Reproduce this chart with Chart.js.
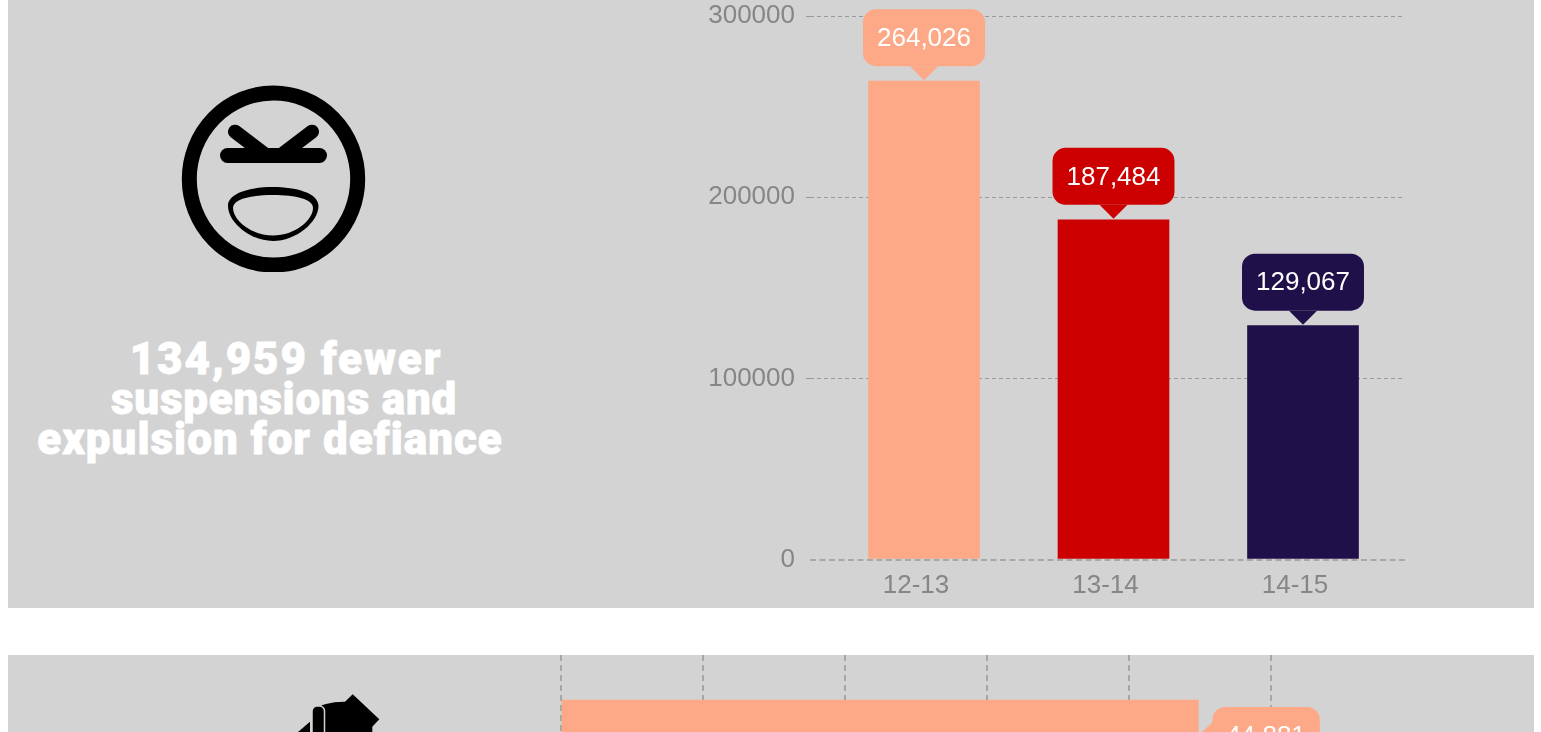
<!DOCTYPE html>
<html>
<head>
<meta charset="utf-8">
<title>Suspensions and expulsions for defiance</title>
<script src="https://cdn.jsdelivr.net/npm/chart.js@4"></script>
<style>
    html, body { margin: 0; padding: 0; background: #fff; overflow: hidden; }
    body { position: relative; width: 1541px; height: 732px; }
    .panel { position: absolute; left: 8px; width: 1526px; background: #d3d3d3; overflow: hidden; }
    #panelTop { top: 0; height: 608px; }
    #panelBottom { top: 655px; height: 77px; }
    #defianceChart { position: absolute; left: 0; top: 0; }
    #fewerChart { position: absolute; left: 0; top: 0; }
    .headline {
        position: absolute;
        white-space: nowrap;
        color: #fff;
        font-family: Roboto, sans-serif;
        font-weight: 900;
        font-size: 44px;
        line-height: 40px;
        -webkit-text-stroke: 0.8px #fff;
        transform: translateX(-50%);
    }
    .icon { position: absolute; left: 0; top: 0; }
</style>
</head>
<body>

<div class="panel" id="panelTop">
    <svg class="icon" width="500" height="272" viewBox="8 0 500 272">
        <ellipse cx="273.5" cy="179" rx="84.2" ry="86" fill="none" stroke="#000" stroke-width="15"/>
        <path d="M227.5 155.5H319.5" stroke="#000" stroke-width="15" stroke-linecap="round"/>
        <path d="M235 131.7L263.6 153.4M312 131.7L283.4 153.4" stroke="#000" stroke-width="14" stroke-linecap="round"/>
        <path fill-rule="evenodd" d="M228 206C228 193 250 187 273 187C296 187 318.5 193 318.5 206C318.5 222 296 241 273 241C250 241 228 222 228 206ZM233 208C233 199 250 195 273 195C296 195 313 199 313 208C313 220 295 235.5 273 235.5C251 235.5 233 220 233 208Z" fill="#000"/>
    </svg>
    <div class="headline" style="left:278px;top:339px;letter-spacing:1.9px">134,959 fewer</div>
    <div class="headline" style="left:276px;top:379px;letter-spacing:0.8px">suspensions and</div>
    <div class="headline" style="left:262px;top:419px;letter-spacing:1px">expulsion for defiance</div>
    <canvas id="defianceChart" width="1526" height="608"></canvas>
</div>

<div class="panel" id="panelBottom">
    <svg class="icon" width="500" height="77" viewBox="8 655 500 77">
        <path d="M352.7 694.3L379.3 719.3L372.3 726.7V732H318V712Q318 705 326 704Q335 701.5 345 701.7Z" fill="#000"/>
        <path d="M310 721.7V732H298Z" fill="#000"/>
        <rect x="312" y="706" width="12.5" height="40" rx="5" fill="#000" stroke="#d3d3d3" stroke-width="1.5"/>
    </svg>
    <canvas id="fewerChart" width="1526" height="161"></canvas>
</div>

<script>
/* ==========================================
   DATA
========================================== */

const years = ["12-13", "13-14", "14-15"];
const defianceValues = [264026, 187484, 129067];
const defianceColors = ["#FDA886", "#CC0000", "#1F1049"];
const yTicks = [0, 100000, 200000, 300000];

const fewerLabels = ["12-13"];
const fewerValues = [44881];
const fewerColors = ["#FDA886"];
const fewerTicks = [0, 10000, 20000, 30000, 40000, 50000];

const fontFamily = '"Liberation Sans", Arial, sans-serif';

/* ==========================================
   VALUE BUBBLES
========================================== */

const valueBubbles = {
    id: "valueBubbles",
    afterDatasetsDraw(chart) {
        const ctx = chart.ctx;
        const horizontal = chart.options.indexAxis === "y";
        const dataset = chart.data.datasets[0];

        chart.getDatasetMeta(0).data.forEach((bar, i) => {
            const raw = dataset.data[i];
            const value = typeof raw === "number" ? raw : raw.y;
            const text = value.toLocaleString("en-US");

            ctx.save();
            ctx.font = "26px " + fontFamily;
            ctx.fillStyle = dataset.backgroundColor[i];

            const width = ctx.measureText(text).width + 28;
            const height = 57;
            let centerX, centerY;

            ctx.beginPath();
            if (horizontal) {
                centerX = bar.x + 14 + width / 2;
                centerY = bar.y;
                ctx.moveTo(bar.x, bar.y);
                ctx.lineTo(bar.x + 15, bar.y - 14);
                ctx.lineTo(bar.x + 15, bar.y + 14);
            } else {
                centerX = bar.x;
                centerY = bar.y - 15 - height / 2;
                ctx.moveTo(bar.x, bar.y - 1);
                ctx.lineTo(bar.x - 14, bar.y - 15);
                ctx.lineTo(bar.x + 14, bar.y - 15);
            }
            ctx.closePath();
            ctx.fill();

            ctx.beginPath();
            ctx.roundRect(centerX - width / 2, centerY - height / 2, width, height, 13);
            ctx.fill();

            ctx.fillStyle = "#fff";
            ctx.textAlign = "center";
            ctx.textBaseline = "middle";
            ctx.fillText(text, centerX, centerY + 1);
            ctx.restore();
        });
    }
};

/* ==========================================
   DEFIANCE COLUMN CHART
========================================== */

function initializeDefianceChart() {

    const canvas = document.getElementById("defianceChart");

    new Chart(canvas, {
        type: "bar",

        data: {
            datasets: [{
                data: defianceValues.map((value, i) => ({ x: i, y: value })),
                backgroundColor: defianceColors,
                barThickness: 111
            }]
        },

        plugins: [valueBubbles],

        options: {
            responsive: false,
            animation: false,

            // canvas sits 8px in from the page edge
            layout: {
                padding: { left: 0, right: 129, top: 16, bottom: 0 }
            },

            plugins: {
                legend: { display: false },
                tooltip: { enabled: false }
            },

            scales: {
                x: {
                    type: "linear",
                    offset: false,
                    min: (810 - 924) / 189.5,
                    max: (1405 - 924) / 189.5,
                    afterBuildTicks(axis) {
                        axis.ticks = years.map((year, i) => ({ value: i }));
                    },
                    afterFit(axis) {
                        axis.height = 48.5;
                        axis.paddingLeft = 0;
                        axis.paddingRight = 0;
                    },
                    border: { display: false },
                    grid: { display: false, drawTicks: false },
                    ticks: {
                        autoSkip: false,
                        maxRotation: 0,
                        padding: 11,
                        labelOffset: -8,
                        color: "#868686",
                        font: { family: fontFamily, size: 26 },
                        callback: value => years[value]
                    }
                },
                y: {
                    min: 0,
                    max: 300000,
                    afterBuildTicks(axis) {
                        axis.ticks = yTicks.map(value => ({ value }));
                    },
                    afterFit(axis) {
                        axis.width = 802;
                        axis.paddingTop = 0;
                        axis.paddingBottom = 0;
                    },
                    border: {
                        display: false,
                        dash: ctx => ctx.tick && ctx.tick.value === 0 ? [6, 3.5] : [4, 3]
                    },
                    grid: {
                        color: ctx => ctx.tick && ctx.tick.value === 0 ? "#a8a8a8" : "#999999",
                        lineWidth: ctx => ctx.tick && ctx.tick.value === 0 ? 2 : 1,
                        tickBorderDash: [4, 3],
                        tickLength: 4,
                        tickWidth: 1,
                        tickColor: ctx => ctx.tick && ctx.tick.value === 0 ? "rgba(0,0,0,0)" : "#999999"
                    },
                    ticks: {
                        padding: 11,
                        color: "#868686",
                        font: { family: fontFamily, size: 26 },
                        callback: value => String(value)
                    }
                }
            }
        }
    });

}

/* ==========================================
   FEWER BAR CHART (CUT OFF BY THE PAGE)
========================================== */

function initializeFewerChart() {

    const canvas = document.getElementById("fewerChart");

    new Chart(canvas, {
        type: "bar",

        data: {
            labels: fewerLabels,
            datasets: [{
                data: fewerValues,
                backgroundColor: fewerColors,
                barThickness: 71
            }]
        },

        plugins: [valueBubbles],

        options: {
            indexAxis: "y",
            responsive: false,
            animation: false,

            layout: {
                padding: { left: 553, right: 263, top: 0, bottom: 0 }
            },

            plugins: {
                legend: { display: false },
                tooltip: { enabled: false }
            },

            scales: {
                x: {
                    min: 0,
                    max: 50000,
                    afterBuildTicks(axis) {
                        axis.ticks = fewerTicks.map(value => ({ value }));
                    },
                    border: { display: false, dash: [6, 4] },
                    grid: {
                        color: "#a6a6a6",
                        lineWidth: 2,
                        drawTicks: false
                    },
                    ticks: { display: false }
                },
                y: {
                    display: false
                }
            }
        }
    });

}

/* ==========================================
   START
========================================== */

document.addEventListener("DOMContentLoaded", () => {
    initializeDefianceChart();
    initializeFewerChart();
});
</script>
</body>
</html>
